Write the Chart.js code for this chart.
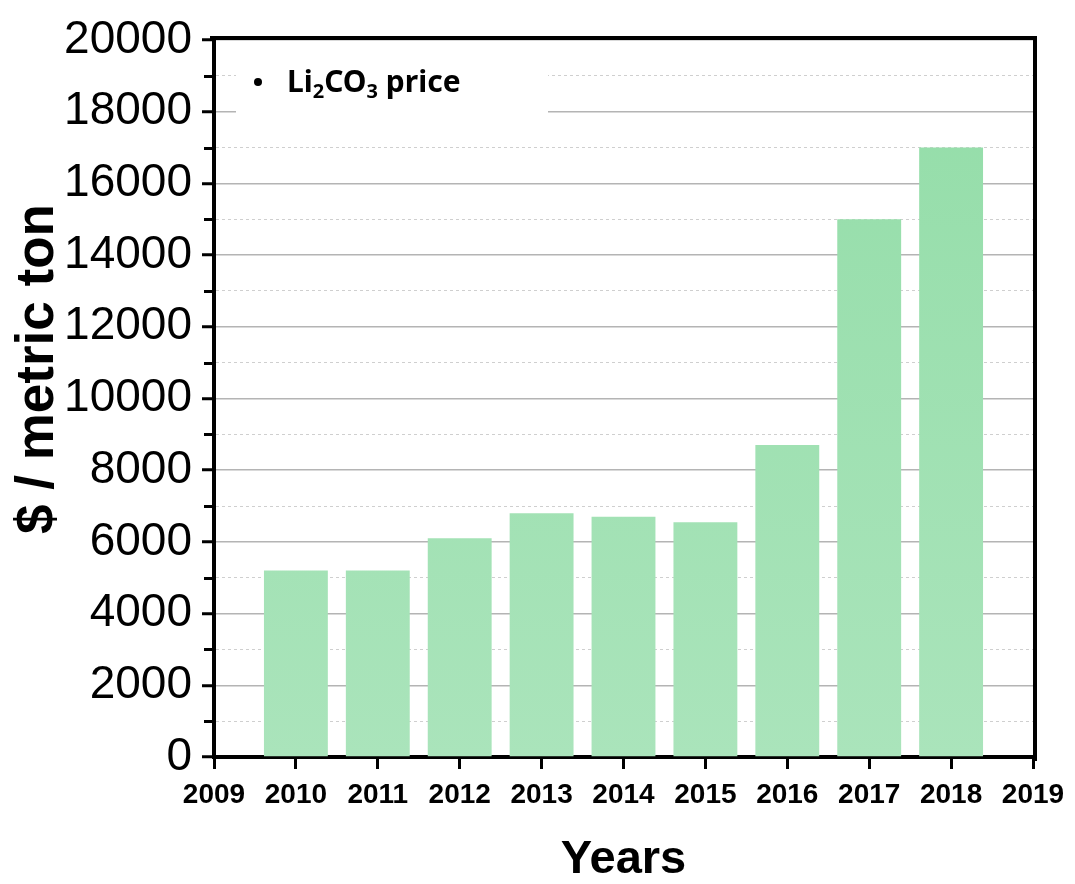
<!DOCTYPE html>
<html lang="en">
<head>
  <meta charset="UTF-8" />
  <title>Li2CO3 price</title>
  <script src="https://cdn.jsdelivr.net/npm/chart.js"></script>
  <style>
    html, body { margin: 0; padding: 0; background: #ffffff; }
    #wrap { width: 1075px; height: 884px; }
  </style>
</head>
<body>
  <div id="wrap"><canvas id="priceChart" width="1075" height="884"></canvas></div>

  <script>
    // data
    const years = [2010, 2011, 2012, 2013, 2014, 2015, 2016, 2017, 2018];
    const prices = [5200, 5200, 6100, 6800, 6700, 6550, 8700, 15000, 17000];
    const xMin = 2009, xMax = 2019;
    const yMin = 0, yMax = 20000;
    // legend text pieces: [text, isSubscript]
    const legendParts = [["Li", false], ["2", true], ["CO", false], ["3", true], [" price", false]];

    const AXIS_FONT = "'Liberation Sans', Arial, sans-serif";

    // frame, minor ticks and legend box
    const framePlugin = {
      id: "frame",
      afterDatasetsDraw(chart) {
        const { ctx, chartArea: a } = chart;
        const y = chart.scales.y;
        ctx.save();
        ctx.strokeStyle = "#000";
        ctx.lineWidth = 4;
        ctx.beginPath();
        ctx.moveTo(a.left - 4, a.top - 2);
        ctx.lineTo(a.right + 2, a.top - 2);
        ctx.lineTo(a.right + 2, a.bottom + 4);
        ctx.stroke();

        // minor ticks on the y axis
        ctx.lineWidth = 3;
        y.ticks.forEach(t => {
          if (t.value % 2000 !== 0) {
            const py = Math.round(y.getPixelForValue(t.value)) + 0.5;
            ctx.beginPath();
            ctx.moveTo(a.left - 10, py);
            ctx.lineTo(a.left, py);
            ctx.stroke();
          }
        });

        // legend
        ctx.fillStyle = "#ffffff";
        ctx.fillRect(a.left + 22, a.top + 17, 312, 66);
        ctx.fillStyle = "#000";
        ctx.beginPath();
        ctx.arc(a.left + 44, a.top + 42, 4, 0, Math.PI * 2);
        ctx.fill();
        let x = a.left + 73;
        const base = a.top + 52;
        ctx.textBaseline = "alphabetic";
        legendParts.forEach(([txt, sub]) => {
          ctx.font = sub ? "bold 20px 'Noto Sans', sans-serif" : "bold 30px 'Noto Sans', sans-serif";
          ctx.fillText(txt, x, sub ? base + 6 : base);
          x += ctx.measureText(txt).width;
        });
        ctx.restore();
      }
    };

    function barFill(c) {
      const area = c.chart.chartArea;
      if (!area) return "#9fe0b0";
      const g = c.chart.ctx.createLinearGradient(0, area.top, 0, area.bottom);
      g.addColorStop(0, "#93dda8");
      g.addColorStop(1, "#aae4bb");
      return g;
    }

    new Chart(document.getElementById("priceChart"), {
      type: "bar",
      data: {
        datasets: [{
          label: "Li2CO3 price",
          data: years.map((yr, i) => ({ x: yr, y: prices[i] })),
          backgroundColor: barFill,
          borderWidth: 0,
          categoryPercentage: 1,
          barPercentage: 0.78
        }]
      },
      plugins: [framePlugin],
      options: {
        responsive: false,
        animation: false,
        layout: { padding: { left: 0, top: 40, right: 42, bottom: 0 } },
        plugins: {
          legend: { display: false },
          tooltip: { enabled: false }
        },
        scales: {
          x: {
            type: "linear",
            min: xMin,
            max: xMax,
            offset: false,
            afterFit: s => { s.height = 127; },
            ticks: {
              stepSize: 1,
              padding: 9,
              color: "#000",
              font: { family: AXIS_FONT, size: 28, weight: "bold" },
              callback: v => String(v)
            },
            grid: {
              offset: false,
              drawOnChartArea: false,
              drawTicks: true,
              tickLength: 12,
              tickWidth: 3,
              tickColor: "#000"
            },
            border: { display: true, color: "#000", width: 4 },
            title: {
              display: true,
              text: "Years",
              color: "#000",
              font: { family: AXIS_FONT, size: 47, weight: "bold", lineHeight: 1 },
              padding: { top: 0, bottom: 0 }
            }
          },
          y: {
            min: yMin,
            max: yMax,
            afterFit: s => { s.width = 214; },
            ticks: {
              stepSize: 1000,
              autoSkip: false,
              padding: 10,
              color: "#000",
              font: { family: AXIS_FONT, size: 46 },
              callback: v => (v % 2000 === 0 ? String(v) : "")
            },
            grid: {
              drawTicks: true,
              tickLength: 12,
              tickWidth: 3,
              tickColor: c => (c.tick && c.tick.value % 2000 === 0 ? "#000" : "rgba(0,0,0,0)"),
              color: c => (c.tick && c.tick.value % 2000 === 0 ? "#b4b4b4" : "#cfcfcf"),
              lineWidth: c => (c.tick && c.tick.value % 2000 === 0 ? 1.5 : 1)
            },
            border: {
              display: true,
              color: "#000",
              width: 4,
              dash: c => (c.tick && c.tick.value % 2000 !== 0 ? [3, 3] : [])
            },
            title: {
              display: true,
              text: "    $ / metric ton",
              color: "#000",
              font: { family: AXIS_FONT, size: 53, weight: "bold", lineHeight: 1 },
              padding: { top: 12, bottom: 0 }
            }
          }
        }
      }
    });
  </script>
</body>
</html>
